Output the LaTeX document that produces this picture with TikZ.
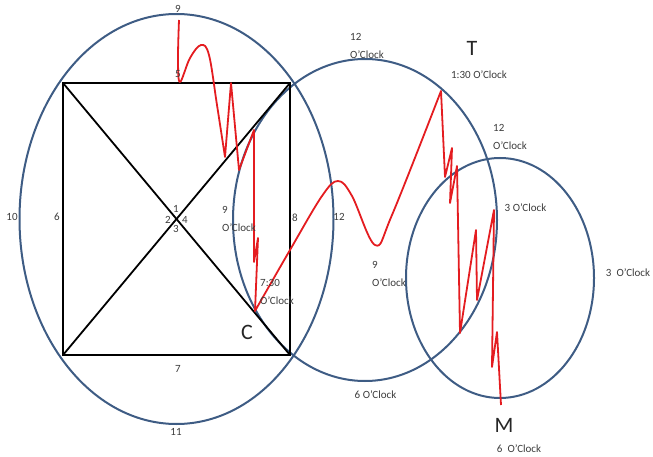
\documentclass[tikz,border=0pt]{standalone}
\usepackage{fontspec}
\setmainfont{Carlito}
\definecolor{ringblue}{RGB}{62,92,132}
\definecolor{wavered}{RGB}{228,28,32}
\definecolor{textgrey}{RGB}{60,60,60}
\begin{document}
\begin{tikzpicture}[x=1pt, y=-1pt,
		ring/.style={draw=ringblue, line width=2pt},
		edge/.style={draw=black, line width=1.8pt},
		wave/.style={draw=wavered, line width=1.8pt, line join=round},
		lbl/.style={font=\fontsize{11}{18}\selectfont, inner sep=0pt, text=textgrey},
		lbltwo/.style={lbl, align=left, anchor=west},
		big/.style={font=\fontsize{22}{24}\selectfont, inner sep=0pt, text=black!85}]
		\useasboundingbox (0,0) rectangle (653,457);
		% centres of the three clocks
		\coordinate (c1) at (176.5,219);
		\coordinate (c2) at (365,220);
		\coordinate (c3) at (500,278);
		\draw[ring] (c1) ellipse [x radius=157, y radius=205];
		\draw[ring] (c2) ellipse [x radius=132, y radius=161];
		\draw[ring] (c3) ellipse [x radius=94, y radius=120];
		% square with its diagonals
		\coordinate (TL) at (63,83);
		\coordinate (TR) at (290,83);
		\coordinate (BR) at (290,355);
		\coordinate (BL) at (63,355);
		\draw[edge] (TL) -- (TR) -- (BR) -- (BL) -- cycle;
		\draw[edge] (TL) -- (BR);
		\draw[edge] (TR) -- (BL);
		% red track
		\draw[wave] plot[smooth, tension=0.6] coordinates {(179,20) (178,60) (180,82) (190,58) (201,45) (209,55) (217,105) (225,157)}
			-- (231,83) -- (239,170) -- (254,130) -- (254,262) -- (258,238) -- (255,311)
			-- plot[smooth, tension=0.6] coordinates {(255,311) (290,250) (322,196) (338,181) (352,196) (375,245) (392,215) (441,91)}
			-- (445,177) -- (452,148) -- (450,203) -- (457,166) -- (460,333) -- (476,230) -- (477,300)
			-- (494,210) -- (492,367) -- (497,332) -- (501,405);
		% labels
		\foreach \n/\x/\y/\t in {n10/12/217/10, n6/57/217/6, n9/178/9/9, n5/178/74/5,
				n1/176/209/1, n2/168/220/2, n4/185/220/4, n3/176/229/3, n8/295/218/8,
				n7/178/369/7, n11/176/432/11, ntwelve/339/217/12,
				nhalfone/479/75/1:30 O’Clock, nthreea/525.5/208/3 O’Clock,
				nthreeb/628/273/3\hspace{5pt}O’Clock, nsixa/375.5/395/6 O’Clock,
				nsixb/519/449/6\hspace{5pt}O’Clock}{
			\node[lbl] (\n) at (\x,\y) {\t};
		}
		\foreach \n/\x/\y/\t in {nninea/222/218.5/9, ntopa/350/46/12, ntopb/493/137/12,
				nnineb/372/274/9, nseven/260/292/7:30}{
			\node[lbltwo] (\n) at (\x,\y) {\t\\O’Clock};
		}
		\node[big] (T) at (472,48) {T};
		\node[big] (C) at (247,332) {C};
		\node[big] (M) at (504,425) {M};
	\end{tikzpicture}
\end{document}
